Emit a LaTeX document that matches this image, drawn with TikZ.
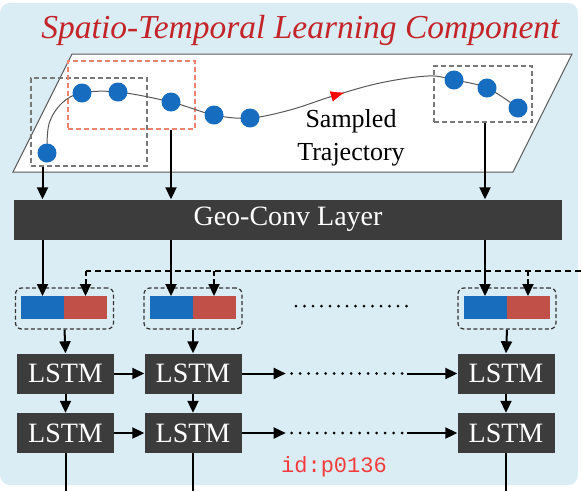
\documentclass[tikz,border=0pt]{standalone}
\usepackage{fontspec}
\setmainfont{Liberation Serif}
\newfontfamily\idfont{Liberation Mono}
\usepackage{tikz}
\usetikzlibrary{positioning,arrows.meta,decorations.markings}
\definecolor{panelbg}{RGB}{218,237,245}
\definecolor{titlered}{RGB}{196,36,40}
\definecolor{dotblue}{RGB}{22,108,190}
\definecolor{featblue}{RGB}{24,110,188}
\definecolor{featred}{RGB}{192,80,72}
\definecolor{layergray}{RGB}{60,60,60}
\definecolor{winred}{RGB}{240,130,110}
\definecolor{wingray}{RGB}{120,120,120}
\definecolor{idred}{RGB}{245,60,60}
\newcommand{\featpair}[3]{%
  \node[featbox, fill=featblue] (#1b) at (#2,#3) {};
  \node[featbox, fill=featred, right=0pt of #1b] (#1r) {};
  \node[featframe] (#1) at (#2+22,#3+1) {};}

\begin{document}
\begin{tikzpicture}[x=1pt, y=-1pt,
  arr/.style={line width=2pt, -{Triangle[length=12pt,width=11pt]}},
  fbarrow/.style={arr, dash pattern=on 5pt off 3pt},
  fbline/.style={line width=1.8pt, dash pattern=on 6pt off 4pt},
  dotrow/.style={line width=3pt, line cap=round, dash pattern=on 0pt off 8.5pt},
  layer/.style={fill=layergray, text=white, inner sep=0pt,
    font=\fontsize{28}{28}\selectfont},
  lstm/.style={layer, minimum width=97pt, minimum height=40pt},
  featbox/.style={minimum width=43pt, minimum height=23pt, inner sep=0pt, outer sep=0pt},
  featframe/.style={draw=black!80, line width=1.2pt, dash pattern=on 4pt off 2.5pt,
    rounded corners=6pt, minimum width=98pt, minimum height=41pt, inner sep=0pt},
  window/.style={draw=#1, line width=1.2pt, dash pattern=on 5pt off 3pt, inner sep=0pt},
  dot/.style={circle, fill=dotblue, minimum size=19pt, inner sep=0pt}]
  \useasboundingbox (0,0) rectangle (581,491);
  \fill[white] (0,0) rectangle (581,491);
  \fill[panelbg, rounded corners=10pt] (0,3) rectangle (578,485);
  \node[text=titlered, anchor=base, font=\fontsize{33.5}{33.5}\selectfont\itshape]
    (title) at (300.5,38) {Spatio-Temporal Learning Component};

  % sampled trajectory plane
  \draw[fill=white, draw=black!65, line width=1pt] (72,54) -- (572,54) -- (513,172) -- (13,172) -- cycle;
  \node[window=wingray, minimum width=116pt, minimum height=88pt] (w1) at (89,122) {};
  \node[window=winred, minimum width=127pt, minimum height=68pt] (w2) at (131.5,95) {};
  \node[window=wingray, minimum width=98pt, minimum height=56pt] (w3) at (483,94) {};
  \foreach \n/\x/\y in {1/47/153, 2/82/93, 3/118/92, 4/171/102, 5/214/115,
                        6/250/118, 7/454/80, 8/487/88, 9/518/108}
    \coordinate (p\n) at (\x,\y);
  \draw[black!65, line width=1pt, postaction={decorate},
        decoration={markings, mark=at position 0.655 with {\arrow{Latex[red,length=14pt,width=11pt]}}}]
    plot[smooth, tension=0.6] coordinates {(p1) (49,124) (62,103) (p2) (p3) (p4) (p5) (p6)
      (290,110) (333,96) (380,83) (428,76) (p7) (p8) (p9)};
  \foreach \n in {1,...,9}
    \node[dot] (d\n) at (p\n) {};
  \node[align=center, font=\fontsize{26}{33}\selectfont] (traj) at (351,138) {Sampled\\Trajectory};

  \node[layer, minimum width=548pt, minimum height=40pt] (geo) at (288,219.5) {Geo-Conv Layer};

  \featpair{f1}{42.5}{307.5}
  \featpair{f2}{171}{307.5}
  \featpair{f3}{485}{307.5}
  \draw[dotrow] (296,306) -- (407,306);

  \node[lstm] (l11) at (65.5,373.5) {LSTM};
  \node[lstm] (l12) at (193,373.5) {LSTM};
  \node[lstm] (l13) at (506,373.5) {LSTM};
  \node[lstm] (l21) at (65.5,433) {LSTM};
  \node[lstm] (l22) at (193,433) {LSTM};
  \node[lstm] (l23) at (506,433) {LSTM};

  % windows to conv layer, conv layer to features
  \draw[arr] (w1.south -| f1b) -- (geo.north -| f1b);
  \draw[arr] (w2.south -| f2b) -- (geo.north -| f2b);
  \draw[arr] (w3.south -| f3b) -- (geo.north -| f3b);
  \foreach \c in {f1,f2,f3}
    \draw[arr] (geo.south -| \c b) -- (\c b.north);

  % feedback
  \coordinate (fbend) at (581,271);
  \draw[fbline] (fbend) -- (fbend -| f1r);
  \foreach \c in {f1,f2,f3}
    \draw[fbarrow] (fbend -| \c r) -- (\c r.north);

  \coordinate (bot) at (0,491);
  \foreach \c in {1,2,3} {
    \draw[arr] (f\c.south) -- (l1\c.north);
    \draw[arr] (l1\c.south) -- (l2\c.north);
    \draw[line width=2pt] (l2\c.south) -- (l2\c.south |- bot);
  }
  \foreach \r in {1,2} {
    \draw[arr] (l\r1.east) -- (l\r2.west);
    \draw[arr] (l\r2.east) -- ++(44,0);
    \draw[dotrow] ([xshift=50pt]l\r2.east) -- ([xshift=-50pt]l\r3.west);
    \draw[arr] ([xshift=-50pt]l\r3.west) -- (l\r3.west);
  }

  \node[text=idred, font=\idfont\fontsize{22}{22}\selectfont] (wm) at (334,467) {id:p0136};
\end{tikzpicture}
\end{document}
